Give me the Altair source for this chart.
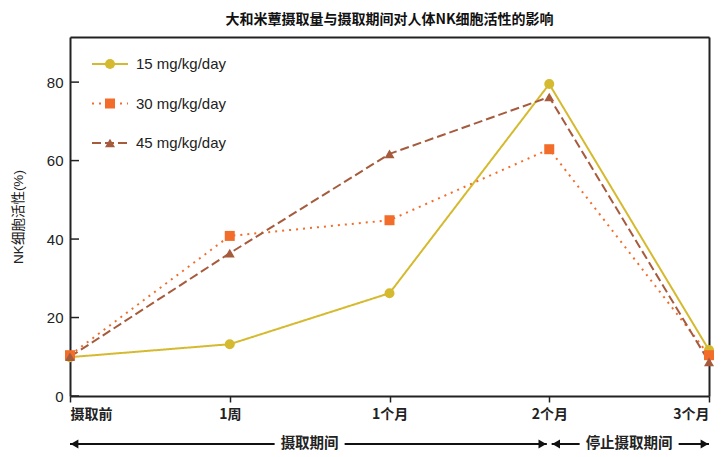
import json
import altair as alt
import pandas as pd

CJK = "Noto Sans CJK SC"
LAT = "Liberation Sans, Noto Sans CJK SC"

title_text = "大和米蕈摄取量与摄取期间对人体NK细胞活性的影响"
y_title = "NK细胞活性(%)"
categories = ["摄取前", "1周", "1个月", "2个月", "3个月"]
series = ["15 mg/kg/day", "30 mg/kg/day", "45 mg/kg/day"]
v15 = [9.9, 13.2, 26.2, 79.5, 11.7]
v30 = [10.4, 40.8, 44.8, 62.9, 10.4]
v45 = [10.0, 36.4, 61.7, 76.2, 8.7]
y_ticks = [0, 20, 40, 60, 80]
periods = ["摄取期间", "停止摄取期间"]
period_start = [0, 3]
period_end = [3, 4]

colors = ["#d5ba2f", "#f36d2a", "#a65b3d"]
shapes = ["circle", "square", "triangle-up"]
dashes = [[1, 0], [2, 5], [9, 4]]
FRAME = "#222"

W, H = 639, 359
Y_MAX = 91.5
X_MAX = len(categories) - 1
px_per_unit = W / X_MAX

rows = []
for s, vals in zip(series, [v15, v30, v45]):
    for i, v in enumerate(vals):
        rows.append({"series": s, "idx": i, "value": v})
df = pd.DataFrame(rows)

color_scale = alt.Scale(domain=series, range=colors)
shape_scale = alt.Scale(domain=series, range=shapes)
dash_scale = alt.Scale(domain=series, range=dashes)
x_scale = alt.Scale(domain=[0, X_MAX], nice=False, zero=False)
y_scale = alt.Scale(domain=[0, Y_MAX], nice=False)

label_expr = json.dumps(categories, ensure_ascii=False) + "[datum.value]"

x_enc = alt.X("idx:Q", scale=x_scale,
              axis=alt.Axis(values=list(range(len(categories))), labelExpr=label_expr,
                            title=None, grid=False, labelFontSize=14, labelFont=CJK,
                            labelFontWeight="bold", labelColor="#222", labelPadding=5,
                            tickSize=6, tickWidth=1.5, tickColor=FRAME,
                            domainColor=FRAME, domainWidth=2))
y_enc = alt.Y("value:Q", scale=y_scale,
              axis=alt.Axis(values=y_ticks, title=y_title, grid=False,
                            labelFontSize=15, labelFont=LAT, labelColor="#222",
                            titleFont=LAT, titleFontSize=13.5, titleFontWeight="normal",
                            titleColor="#222", titlePadding=21, labelPadding=7,
                            tickSize=0, domainColor=FRAME, domainWidth=2))

base = alt.Chart(df)
lines = base.mark_line(strokeWidth=2).encode(
    x=x_enc, y=y_enc,
    color=alt.Color("series:N", scale=color_scale, legend=None),
    strokeDash=alt.StrokeDash("series:N", scale=dash_scale, legend=None),
    detail="series:N",
)
points = base.mark_point(filled=True, size=100, opacity=1).encode(
    x=alt.X("idx:Q", axis=None), y=alt.Y("value:Q", axis=None),
    color=alt.Color("series:N", scale=color_scale, legend=None),
    shape=alt.Shape("series:N", scale=shape_scale, legend=None),
)

# top and right edges of the frame, drawn as extra axes (domain line only)
frame_axes = base.mark_point(opacity=0).encode(
    x=alt.X("idx:Q", axis=alt.Axis(orient="top", labels=False, ticks=False, grid=False,
                                   title=None, domainColor=FRAME, domainWidth=2)),
    y=alt.Y("value:Q", axis=alt.Axis(orient="right", labels=False, ticks=False, grid=False,
                                     title=None, domainColor=FRAME, domainWidth=2)),
)

layers = [lines, points, frame_axes]

# inward y ticks
for t in y_ticks:
    ypx = H - t / Y_MAX * H
    layers.append(alt.Chart(pd.DataFrame({"tick": [str(t)]})).mark_rule(
        color=FRAME, strokeWidth=1.5).encode(
        x=alt.value(1), x2=alt.value(9), y=alt.value(ypx)))

# manual legend
for i, s in enumerate(series):
    yy = 27 + 39.5 * i
    one = alt.Chart(pd.DataFrame({"series": [s]}))
    rule_kwargs = dict(color=colors[i], strokeWidth=2)
    if i > 0:
        rule_kwargs["strokeDash"] = dashes[i]
    layers.append(one.mark_rule(**rule_kwargs).encode(
        x=alt.value(22), x2=alt.value(58), y=alt.value(yy)))
    layers.append(one.mark_point(filled=True, size=100, opacity=1, color=colors[i],
                                 shape=shapes[i]).encode(x=alt.value(40), y=alt.value(yy)))
    layers.append(one.mark_text(align="left", baseline="middle", fontSize=15, font=LAT,
                                color="#222").encode(x=alt.value(66), y=alt.value(yy),
                                                     text="series:N"))

# period arrows under the axis
seg_rows, lab_rows = [], []
left_heads, right_heads = [], []
inset = 0.015
for j, (p, s0, s1) in enumerate(zip(periods, period_start, period_end)):
    a = s0 + (inset if j > 0 else 0)
    b = s1 - (inset if j < len(periods) - 1 else 0)
    mid = (s0 + s1) / 2
    half_gap = (len(p) * 14.5 + 12) / 2 / px_per_unit
    seg_rows.append({"x": a, "x2": mid - half_gap})
    seg_rows.append({"x": mid + half_gap, "x2": b})
    left_heads.append({"x": a + 0.028})
    right_heads.append({"x": b - 0.028})
    lab_rows.append({"x": mid, "label": p})

ARROW_Y = H + 48
segs = alt.Chart(pd.DataFrame(seg_rows)).mark_rule(color="#111", strokeWidth=2).encode(
    x=alt.X("x:Q", axis=None), x2="x2:Q", y=alt.value(ARROW_Y))
lh = alt.Chart(pd.DataFrame(left_heads)).mark_point(
    filled=True, size=80, color="#111", opacity=1, shape="triangle-left").encode(
    x=alt.X("x:Q", axis=None), y=alt.value(ARROW_Y))
rh = alt.Chart(pd.DataFrame(right_heads)).mark_point(
    filled=True, size=80, color="#111", opacity=1, shape="triangle-right").encode(
    x=alt.X("x:Q", axis=None), y=alt.value(ARROW_Y))
labs = alt.Chart(pd.DataFrame(lab_rows)).mark_text(fontSize=14.5, font=CJK, fontWeight="bold",
                                                   color="#222", baseline="middle").encode(
    x=alt.X("x:Q", axis=None), y=alt.value(ARROW_Y), text="label:N")
layers += [segs, lh, rh, labs]

chart = alt.layer(*layers).resolve_axis(x="independent", y="independent").properties(
    width=W, height=H,
    background="white",
    title=alt.TitleParams(title_text, font=CJK, fontSize=14, fontWeight="bold",
                          color="#111", anchor="middle", offset=10),
    padding={"left": 62, "top": 29, "right": 8, "bottom": 56},
    autosize=alt.AutoSizeParams(type="none"),
)

chart.save("out.html", embed_options={"renderer": "svg", "actions": False})
